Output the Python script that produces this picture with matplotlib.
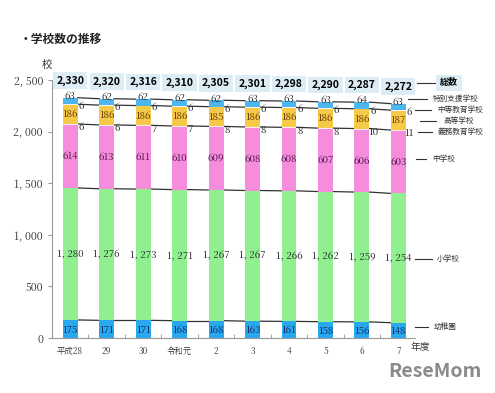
import matplotlib.pyplot as plt
import numpy as np

plt.rcParams['font.family'] = ['Noto Sans CJK JP', 'DejaVu Sans']

years = ['平成28', '29', '30', '令和元', '2', '3', '4', '5', '6', '7']
youchien = [175, 171, 171, 168, 168, 163, 161, 158, 156, 148]
shougakkou = [1280, 1276, 1273, 1271, 1267, 1267, 1266, 1262, 1259, 1254]
chuugakkou = [614, 613, 611, 610, 609, 608, 608, 607, 606, 603]
gimu = [6, 6, 7, 7, 8, 8, 8, 8, 10, 11]
koutou = [186, 186, 186, 186, 185, 186, 186, 186, 186, 187]
chuutou = [6, 6, 6, 6, 6, 6, 6, 6, 6, 6]
tokubetsu = [63, 62, 62, 62, 62, 63, 63, 63, 64, 63]
totals = [2330, 2320, 2316, 2310, 2305, 2301, 2298, 2290, 2287, 2272]

series = [youchien, shougakkou, chuugakkou, gimu, koutou, chuutou, tokubetsu]
colors = ['#2aa8ee', '#90f090', '#f58cdc', '#f4eef8', '#f7c948', '#f4f4f4', '#4db6ee']

def fmt(v):
    return f'{v:,}'.replace(',', ', ')

fig = plt.figure(figsize=(4.95, 3.93), dpi=100)
ax = fig.add_axes([0.105, 0.14, 0.733, 0.656])

x = np.arange(len(years))
w = 0.41
bottom = np.zeros(len(years))
tops = []
for s, c in zip(series, colors):
    ax.bar(x, s, w, bottom=bottom, color=c, edgecolor='none', zorder=2)
    bottom = bottom + np.array(s)
    tops.append(bottom.copy())

# connector lines between bars
for i in [0, 1, 3, 5, 6]:
    t = tops[i]
    for j in range(len(x) - 1):
        ax.plot([x[j] + w / 2, x[j + 1] - w / 2], [t[j], t[j + 1]],
                color='#333333', lw=0.9, zorder=1)

lab = dict(fontsize=7, ha='center', va='center', family=['Noto Serif CJK JP', 'DejaVu Serif'])
for j in range(len(x)):
    ax.text(x[j], youchien[j] / 2 - 10, str(youchien[j]), color='#10205a', **lab)
    ax.text(x[j], youchien[j] + shougakkou[j] / 2, fmt(shougakkou[j]), color='#222222', **lab)
    b = youchien[j] + shougakkou[j]
    ax.text(x[j], b + chuugakkou[j] / 2, str(chuugakkou[j]), color='#4a1040', **lab)
    b2 = b + chuugakkou[j] + gimu[j]
    ax.text(x[j] + 0.3, b2 - 35, str(gimu[j]), color='#222222', **lab)
    ax.text(x[j], b2 + koutou[j] / 2, str(koutou[j]), color='#5a3000', **lab)
    ax.text(x[j] + 0.3, b2 + koutou[j] - 15, str(chuutou[j]), color='#222222', **lab)
    ax.text(x[j], totals[j] + 15, str(tokubetsu[j]), color='#222222', **lab)
    ax.text(x[j], totals[j] + 165, f'{totals[j]:,}', fontsize=7.5, fontweight='bold',
            ha='center', va='center', clip_on=False,
            bbox=dict(boxstyle='square,pad=0.3', fc='#dcedf6', ec='none'))

ax.set_xlim(-0.5, 9.45)
ax.set_ylim(0, 2500)
ax.set_yticks([0, 500, 1000, 1500, 2000, 2500])
ax.set_yticklabels(['0'] + [fmt(v) for v in [500, 1000, 1500, 2000, 2500]],
                   family=['Noto Serif CJK JP', 'DejaVu Serif'], fontsize=7.5, color='#333333')
ax.set_xticks(x)
ax.set_xticklabels(years, fontsize=6, family=['Noto Serif CJK JP', 'DejaVu Serif'], color='#333333')
ax.tick_params(axis='x', length=0, pad=6)
ax.set_xticks(x[:-1] + 0.5, minor=True)
ax.tick_params(axis='x', which='minor', length=3, direction='in', color='#999999')
ax.tick_params(axis='y', length=3, color='#999999')
for sp in ['top', 'right']:
    ax.spines[sp].set_visible(False)
for sp in ['left', 'bottom']:
    ax.spines[sp].set_color('#999999')
    ax.spines[sp].set_linewidth(0.8)

fig.text(0.085, 0.827, '校', fontsize=7.5, color='#333333')
fig.text(0.83, 0.118, '年度', fontsize=7, color='#333333', va='center')
fig.text(0.04, 0.89, '・学校数の推移', fontsize=8.5, fontweight='bold', color='#222222')

# right side labels: (name, y px, line x0 px, line x1 px, text x px)
legend_items = [('総数', 83, 417, 437, 440), ('特別支援学校', 99, 408, 427, 433),
                ('中等教育学校', 110, 415, 431, 437), ('高等学校', 121, 420, 436, 444),
                ('義務教育学校', 132, 418, 432, 438), ('中学校', 159, 416, 426, 432),
                ('小学校', 259, 415, 432, 437), ('幼稚園', 327, 415, 428, 434)]
for name, py, l0, l1, tx in legend_items:
    yy = 1 - py / 393
    fig.add_artist(plt.Line2D([l0 / 495, l1 / 495], [yy, yy], color='#333333', lw=0.8))
    if name == '総数':
        fig.text(tx / 495, yy, name, fontsize=6.5, fontweight='bold', va='center',
                 bbox=dict(boxstyle='square,pad=0.4', fc='#dcedf6', ec='none'))
    else:
        fig.text(tx / 495, yy, name, fontsize=5.5, va='center', color='#333333')

fig.text(0.972, 0.03, 'ReseMom', fontsize=14, fontweight='bold', color='#8a8a8a',
         ha='right', va='bottom')

fig.savefig('out.png', dpi=100, facecolor='white')
